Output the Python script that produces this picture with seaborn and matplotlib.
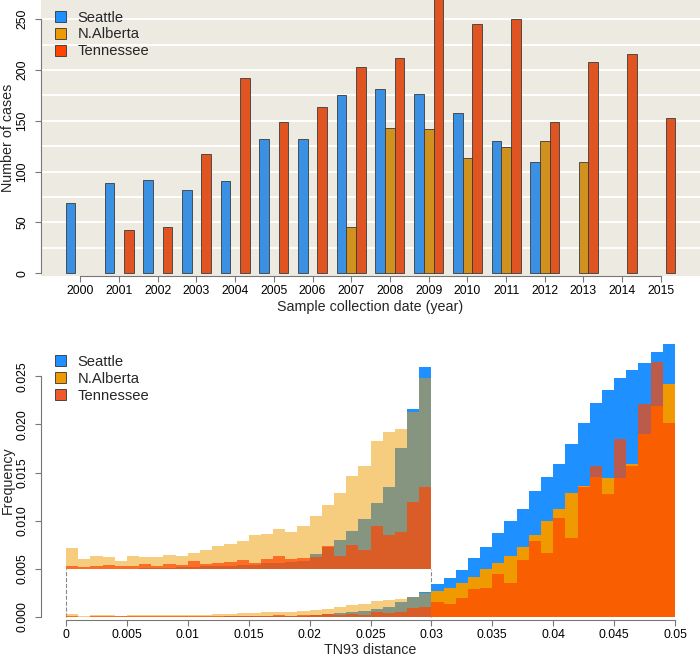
import numpy as np
import pandas as pd
import matplotlib
matplotlib.use("Agg")
import matplotlib.pyplot as plt
from matplotlib.patches import Patch
import seaborn as sns

sns.set_style("ticks")
plt.rcParams['font.family'] = ['Liberation Sans', 'DejaVu Sans']

## cases per year and region (top panel)
years = [str(y) for y in range(2000, 2016)]
regions = ["Seattle", "N.Alberta", "Tennessee"]
seattle_cases = [69, 89, 92, 82, 91, 132, 132, 175, 181, 176, 158, 130, 110, None, None, None]
alberta_cases = [None, None, None, None, None, None, None, 46, 143, 142, 113, 124, 130, 110, None, None]
tennessee_cases = [None, 43, 46, 117, 192, 149, 164, 203, 212, 270, 245, 250, 149, 208, 216, 153]

## TN93 distance histograms (bottom panel), frequency x 1e-4, bins of 0.001 from 0 to 0.05
seattle_freq = [0, 0, 0, 0, 0, 0, 0.1, 0.1, 0.1, 0.2,
                0.2, 0.3, 0.3, 0.4, 0.5, 0.5, 0.7, 0.8, 0.9, 1.0,
                1.9, 2.8, 3.7, 4.9, 6.5, 8.5, 10.6, 15.7, 20.7, 26.2,
                33.8, 40.0, 48.3, 60.8, 72.6, 87.5, 99.6, 111.7, 130.8, 145.0,
                158.5, 179.3, 201.8, 222.6, 235.4, 248.6, 256.2, 263.5, 275.6, 283.3]
alberta_freq = [2.7, 1.2, 1.6, 1.5, 1.0, 1.65, 1.55, 1.5, 1.8, 1.7,
                2.0, 2.4, 2.9, 3.2, 3.6, 4.4, 4.55, 5.1, 4.8, 5.6,
                6.8, 8.3, 9.9, 12.0, 13.4, 16.6, 17.8, 18.1, 20.4, 24.8,
                26.8, 30.3, 35.5, 41.4, 49.4, 56.3, 63.2, 72.6, 84.7, 99.6,
                111.7, 129.0, 136.0, 145.6, 144.0, 144.6, 158.5, 189.7, 219.1, 241.7]
tennessee_freq = [0.35, 0.25, 0.35, 0.5, 0.35, 0.35, 0.65, 0.4, 0.6, 0.5,
                  1.0, 0.65, 0.8, 0.9, 1.1, 0.8, 1.3, 1.65, 1.2, 1.4,
                  1.5, 2.9, 1.7, 3.1, 2.4, 5.5, 4.4, 4.8, 8.7, 10.6,
                  15.4, 13.0, 19.9, 28.6, 30.3, 44.8, 35.5, 58.7, 78.8, 66.6,
                  102.4, 82.2, 134.9, 156.8, 127.3, 184.5, 156.8, 220.9, 265.2, 201.8]
zoom_factor = 8
zoom_base = 0.005

blue = "#1E90FF"
orange = "#EE9A00"
red = "#FF4500"

fig = plt.figure(figsize=(7, 6.56), dpi=100)
ax1 = fig.add_axes([41/700, 1-275.5/656, 659/700, 275.5/656])
ax2 = fig.add_axes([41/700, 1-619.7/656, 659/700, 286.7/656])

##top panel: grouped bars
rows = []
for reg, vals in zip(regions, [seattle_cases, alberta_cases, tennessee_cases]):
    for yr, v in zip(years, vals):
        if v is not None:
            rows.append({"year": yr, "region": reg, "cases": v})
cases = pd.DataFrame(rows)

sns.barplot(data=cases, x="year", y="cases", hue="region", order=years, hue_order=regions,
            palette=[blue, orange, red], width=0.75, edgecolor="#3a3a3a", linewidth=0.6,
            errorbar=None, legend=False, ax=ax1)
ax1.set_facecolor("#EDEBE1")
for v in range(25, 251, 25):
    ax1.axhline(v, color="white", lw=1.3, zorder=0.5)
ax1.set_xlim(-1.016, 16.01)
ax1.set_ylim(-2.2, 269)
ax1.set_yticks(range(0, 251, 50))
ax1.set_xticks(range(16))
ax1.set_xticklabels(years)

##bottom panel: overlaid histograms + zoomed inset for 0-0.03
edges = np.linspace(0, 0.05, 51)
dist = pd.DataFrame({"dist": edges[:-1] + 0.0005,
                     "S": np.array(seattle_freq) * 1e-4,
                     "A": np.array(alberta_freq) * 1e-4,
                     "T": np.array(tennessee_freq) * 1e-4})
left = dist.iloc[:30]
right = dist.iloc[30:]

ax2.plot([0, 0], [0, zoom_base], ls="--", color="#888888", lw=0.8, zorder=0.5)
ax2.plot([0.03, 0.03], [0, zoom_base], ls="--", color="#888888", lw=0.8, zorder=0.5)

sns.histplot(data=dist, x="dist", weights="S", bins=50, binrange=(0, 0.05), element="step",
             fill=True, color=blue, alpha=1, linewidth=0, ax=ax2)
sns.histplot(data=left, x="dist", weights="A", bins=30, binrange=(0, 0.03), element="step",
             fill=True, color=orange, alpha=0.5, linewidth=0, ax=ax2)
sns.histplot(data=right, x="dist", weights="A", bins=20, binrange=(0.03, 0.05), element="step",
             fill=True, color=orange, alpha=1, linewidth=0, ax=ax2)
sns.histplot(data=dist, x="dist", weights="T", bins=50, binrange=(0, 0.05), element="step",
             fill=True, color=red, alpha=0.7, linewidth=0, ax=ax2)

ax2.stairs(left["S"] * zoom_factor + zoom_base, edges[:31], baseline=zoom_base, fill=True,
           color=blue, lw=0)
ax2.stairs(left["A"] * zoom_factor + zoom_base, edges[:31], baseline=zoom_base, fill=True,
           color=orange, alpha=0.5, lw=0)
ax2.stairs(left["T"] * zoom_factor + zoom_base, edges[:31], baseline=zoom_base, fill=True,
           color=red, alpha=0.7, lw=0)

ax2.set_xlim(-0.00205, 0.05205)
ax2.set_ylim(-0.0003, 0.0295)
xt = np.arange(0, 0.0501, 0.005)
ax2.set_xticks(xt)
ax2.set_xticklabels(["0", "0.005", "0.01", "0.015", "0.02", "0.025", "0.03",
                     "0.035", "0.04", "0.045", "0.05"])
yt = np.arange(0, 0.0251, 0.005)
ax2.set_yticks(yt)
ax2.set_yticklabels(["%.3f" % v for v in yt])

##R-like axes
for ax, xb, yb in [(ax1, (0, 15), (0, 250)), (ax2, (0, 0.05), (0, 0.025))]:
    ax.spines["top"].set_visible(False)
    ax.spines["right"].set_visible(False)
    ax.spines["bottom"].set_bounds(*xb)
    ax.spines["left"].set_bounds(*yb)
    for s in ["bottom", "left"]:
        ax.spines[s].set_color("#777777")
        ax.spines[s].set_linewidth(0.8)
    ax.tick_params(length=4, width=0.8, color="#777777", labelsize=8.8, labelcolor="black")
    ax.tick_params(axis="y", labelrotation=90, pad=5)
    ax.tick_params(axis="x", pad=3)
    for lab in ax.get_yticklabels():
        lab.set_va("center")

ax1.set_ylabel("Number of cases", fontsize=10.3, va="center")
ax1.yaxis.set_label_coords(-0.05, 0.5)
ax1.set_xlabel("Sample collection date (year)", fontsize=10.3, va="center")
ax1.xaxis.set_label_coords(0.5, -0.114)
ax2.set_ylabel("Frequency", fontsize=10.3, va="center")
ax2.yaxis.set_label_coords(-0.05, 0.487)
ax2.set_xlabel("TN93 distance", fontsize=10.3, va="center")
ax2.xaxis.set_label_coords(0.5, -0.106)

h1 = [Patch(facecolor=c, edgecolor="#333333", lw=0.6) for c in [blue, orange, red]]
ax1.legend(h1, regions, loc="upper left", bbox_to_anchor=(55/700, 1-10.5/656),
           bbox_transform=fig.transFigure, frameon=False, fontsize=10.6,
           handlelength=0.75, handleheight=0.75, handletextpad=0.8, labelspacing=0.2,
           borderpad=0, borderaxespad=0)
h2 = [Patch(facecolor=c, edgecolor="#333333", lw=0.6) for c in [blue, orange, "#F05A28"]]
ax2.legend(h2, regions, loc="upper left", bbox_to_anchor=(55/700, 1-355/656),
           bbox_transform=fig.transFigure, frameon=False, fontsize=10.6,
           handlelength=0.75, handleheight=0.75, handletextpad=0.8, labelspacing=0.2,
           borderpad=0, borderaxespad=0)

fig.savefig("out.png", dpi=100)
